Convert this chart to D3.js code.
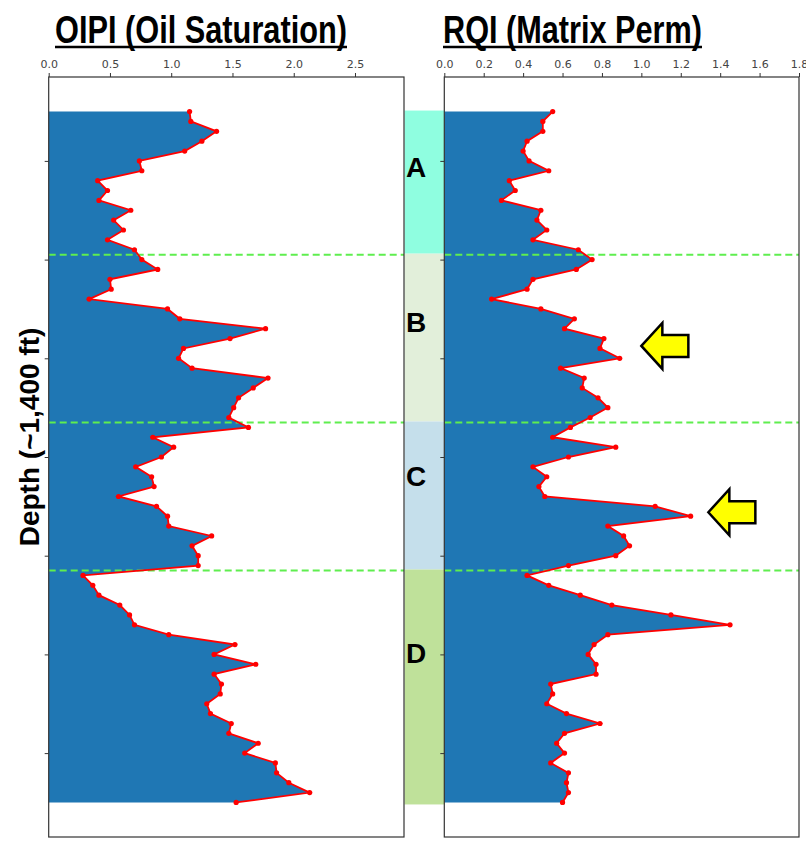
<!DOCTYPE html>
<html><head><meta charset="utf-8">
<script src="https://cdn.jsdelivr.net/npm/d3@7"></script>
<style>body{margin:0;background:#fff}</style>
</head><body>
<svg id="c" width="806" height="844"></svg>
<script>
const depth = [0,20,40,60,80,100,120,140,160,180,200,220,240,260,280,300,320,340,360,380,400,420,440,460,480,500,520,540,560,580,600,620,640,660,680,700,720,740,760,780,800,820,840,860,880,900,920,940,960,980,1000,1020,1040,1060,1080,1100,1120,1140,1160,1180,1200,1220,1240,1260,1280,1300,1320,1340,1360,1380,1400];
const oipi = [1.15,1.16,1.37,1.25,1.11,0.74,0.76,0.40,0.48,0.41,0.67,0.53,0.61,0.48,0.70,0.76,0.89,0.50,0.51,0.33,0.97,1.07,1.77,1.48,1.10,1.06,1.17,1.79,1.67,1.55,1.51,1.47,1.63,0.85,1.02,0.92,0.71,0.84,0.86,0.57,0.88,0.97,0.98,1.33,1.17,1.22,1.22,0.28,0.36,0.41,0.58,0.66,0.70,0.98,1.52,1.35,1.69,1.35,1.41,1.40,1.29,1.32,1.49,1.47,1.71,1.60,1.85,1.86,1.96,2.13,1.53];
const rqi = [0.55,0.50,0.50,0.42,0.40,0.43,0.53,0.33,0.36,0.29,0.49,0.47,0.52,0.45,0.68,0.75,0.67,0.45,0.42,0.24,0.49,0.66,0.61,0.81,0.79,0.89,0.59,0.71,0.70,0.78,0.83,0.74,0.64,0.55,0.87,0.63,0.45,0.52,0.48,0.51,1.07,1.25,0.83,0.91,0.94,0.87,0.63,0.42,0.53,0.69,0.85,1.15,1.45,0.83,0.76,0.73,0.77,0.77,0.54,0.55,0.52,0.62,0.79,0.61,0.57,0.61,0.54,0.63,0.62,0.63,0.60];
const oipiTicks = [0,0.5,1.0,1.5,2.0,2.5];
const rqiTicks = [0,0.2,0.4,0.6,0.8,1.0,1.2,1.4,1.6,1.8];
const depthTicks = [100,300,500,700,900,1100,1300];
const zones = ["A","B","C","D"];
const zoneTop = [0,290,630,930];
const zoneBottom = [290,630,930,1400];
const zoneLabelDepth = [112,427,738,1098];
const zoneColors = ["#8ffee0","#e2efda","#c5dfeb","#bfe19a"];
const boundaries = [290,630,930];
const arrowValue = [1.0,1.34];
const arrowDepth = [475,812];

(function(){
const svg = d3.select("#c");
const yTop = 77, yBot = 837;
const y = d3.scaleLinear().domain([-70,1470]).range([yTop,yBot]);

function panel(x0, x1, domainMax, vals, ticks, title, tx0, tx1){
  const x = d3.scaleLinear().domain([0,domainMax]).range([x0,x1]);
  const g = svg.append("g");
  const area = d3.area().y(d=>y(d[0])).x0(x(0)).x1(d=>x(d[1]));
  const pts = depth.map((d,i)=>[d, vals[i]]);
  g.append("path").datum(pts).attr("d",area).attr("fill","#1f77b4");
  g.selectAll(".b").data(boundaries).enter().append("line")
    .attr("x1",x0).attr("x2",x1).attr("y1",d=>y(d)).attr("y2",d=>y(d))
    .attr("stroke","#5fee4f").attr("stroke-width",2).attr("stroke-dasharray","7,4");
  const line = d3.line().y(d=>y(d[0])).x(d=>x(d[1]));
  g.append("path").datum(pts).attr("d",line).attr("fill","none").attr("stroke","#ff0000").attr("stroke-width",1.8);
  g.selectAll(".p").data(pts).enter().append("circle")
    .attr("cx",d=>x(d[1])).attr("cy",d=>y(d[0])).attr("r",2.6).attr("fill","#ff0000");
  const ax = g.append("g").attr("transform",`translate(0,${yTop})`)
    .call(d3.axisTop(x).tickValues(ticks).tickFormat(d3.format(".1f")).tickSize(4).tickPadding(5));
  ax.select(".domain").remove();
  ax.selectAll("line").attr("stroke","#333");
  ax.selectAll("text").attr("font-family","DejaVu Sans").attr("font-size","11px").attr("fill","#444");
  const ay = g.append("g").attr("transform",`translate(${x0},0)`)
    .call(d3.axisLeft(y).tickValues(depthTicks).tickFormat("").tickSize(4));
  ay.select(".domain").remove();
  ay.selectAll("line").attr("stroke","#333");
  g.append("rect").attr("x",x0).attr("y",yTop).attr("width",x1-x0).attr("height",yBot-yTop)
    .attr("fill","none").attr("stroke","#333").attr("stroke-width",1.2);
  svg.append("text").attr("x",tx0).attr("y",43).text(title)
    .attr("font-family","Liberation Sans, Arial, sans-serif").attr("font-weight","bold").attr("font-size","38px")
    .attr("textLength",tx1-tx0).attr("lengthAdjust","spacingAndGlyphs").attr("fill","#000");
  svg.append("line").attr("x1",tx0).attr("x2",tx1).attr("y1",47).attr("y2",47).attr("stroke","#000").attr("stroke-width",2.5);
  return x;
}

const band = svg.append("g");
band.selectAll("rect").data(zones).enter().append("rect")
  .attr("x",404.5).attr("width",40).attr("y",(d,i)=>y(zoneTop[i])-1).attr("height",(d,i)=>y(zoneBottom[i])-y(zoneTop[i])+(i===3?3:0))
  .attr("fill",(d,i)=>zoneColors[i]);
band.selectAll("text").data(zones).enter().append("text")
  .attr("x",416).attr("y",(d,i)=>y(zoneLabelDepth[i])+10)
  .attr("text-anchor","middle").attr("font-family","Liberation Sans, Arial, sans-serif")
  .attr("font-weight","bold").attr("font-size","28px").text(d=>d);

panel(48.7, 404, 2.9, oipi, oipiTicks, "OIPI (Oil Saturation)", 55, 347);
const xr = panel(444.3, 799, 1.8, rqi, rqiTicks, "RQI (Matrix Perm)", 443, 702);

const arrowShape = [[0,0],[21,-23],[21,-11],[47,-11],[47,11],[21,11],[21,23]];
arrowValue.forEach((v,i)=>{
  const tx = xr(v), ty = y(arrowDepth[i]);
  svg.append("polygon").attr("points",arrowShape.map(p=>[tx+p[0],ty+p[1]].join(",")).join(" "))
    .attr("fill","#ffff00").attr("stroke","#000").attr("stroke-width",2.5).attr("stroke-linejoin","miter");
});

svg.append("text").attr("transform","translate(39,437) rotate(-90)")
  .attr("text-anchor","middle").attr("font-family","Liberation Sans, Arial, sans-serif")
  .attr("font-weight","bold").attr("font-size","28px").attr("fill","#000").text("Depth (~1,400 ft)");
})();
</script>
</body></html>
